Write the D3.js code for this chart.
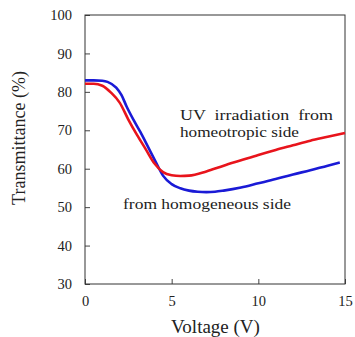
<!DOCTYPE html>
<html>
<head>
<meta charset="utf-8">
<script src="https://cdn.jsdelivr.net/npm/d3@7"></script>
<style>
  body { margin: 0; background: #fff; }
</style>
</head>
<body>
<svg id="chart" width="355" height="337"></svg>
<script>
// data
var redVoltage = [0, 0.5, 1, 1.5, 2, 2.5, 3, 3.5, 4, 4.5, 5, 5.5, 6, 7, 8, 9, 10, 11, 12, 13, 14, 15];
var redTrans = [82.1, 82.1, 81.6, 79.8, 77.2, 72.8, 68.8, 65.1, 61.4, 59.1, 58.3, 58.1, 58.2, 59.3, 60.8, 62.2, 63.6, 64.9, 66.1, 67.3, 68.3, 69.3];

var blueVoltage = [0, 0.5, 1, 1.3, 1.8, 2.1, 2.4, 2.8, 3.2, 3.6, 4.1, 4.5, 5, 5.5, 6, 6.5, 7, 7.5, 8, 9, 10, 11, 12, 13, 14, 14.7];
var blueTrans = [83, 83, 82.9, 82.6, 81.1, 79.2, 76.2, 72.7, 69.5, 66, 61.6, 58.2, 56.0, 54.9, 54.3, 54, 53.9, 54, 54.3, 55.1, 56.2, 57.3, 58.5, 59.6, 60.8, 61.6];

var xTicks = [0, 5, 10, 15];
var yTicks = [30, 40, 50, 60, 70, 80, 90, 100];

var serif = "'Liberation Serif', 'Times New Roman', 'DejaVu Serif', serif";

var svg = d3.select("#chart");
var plotLeft = 85, plotRight = 345, plotTop = 15, plotBottom = 284;

var x = d3.scaleLinear().domain([0, 15]).range([plotLeft, plotRight]);
var y = d3.scaleLinear().domain([30, 100]).range([plotBottom, plotTop]);

// axes, ticks point inward
var xAxis = svg.append("g")
    .attr("transform", "translate(0," + plotBottom + ")")
    .call(d3.axisBottom(x).tickValues(xTicks).tickSizeInner(-5).tickSizeOuter(0).tickPadding(12));
var yAxis = svg.append("g")
    .attr("transform", "translate(" + plotLeft + ",0)")
    .call(d3.axisLeft(y).tickValues(yTicks).tickSizeInner(-5).tickSizeOuter(0).tickPadding(13));

[xAxis, yAxis].forEach(function(a) {
    a.attr("font-family", serif).attr("font-size", 14.5);
    a.select(".domain").remove();
    a.selectAll("line").attr("stroke", "#444");
    a.selectAll("text").attr("fill", "#222");
});

// frame
svg.append("rect")
    .attr("x", plotLeft).attr("y", plotTop)
    .attr("width", plotRight - plotLeft).attr("height", plotBottom - plotTop)
    .attr("fill", "none").attr("stroke", "#333").attr("stroke-width", 1);

var line = d3.line()
    .x(function(d) { return x(d[0]); })
    .y(function(d) { return y(d[1]); })
    .curve(d3.curveMonotoneX);

svg.append("path")
    .datum(blueVoltage.map(function(v, i) { return [v, blueTrans[i]]; }))
    .attr("d", line)
    .attr("fill", "none").attr("stroke", "#1a1ad6").attr("stroke-width", 2.6);

svg.append("path")
    .datum(redVoltage.map(function(v, i) { return [v, redTrans[i]]; }))
    .attr("d", line)
    .attr("fill", "none").attr("stroke", "#e8141c").attr("stroke-width", 2.6);

function label(xp, yp, size, len, str) {
    var t = svg.append("text").attr("x", xp).attr("y", yp)
        .attr("font-family", serif).attr("font-size", size).attr("fill", "#222")
        .style("white-space", "pre")
        .text(str);
    if (len) t.attr("textLength", len).attr("lengthAdjust", "spacingAndGlyphs");
    return t;
}

// annotations
label(180, 120, 15, 153, "UV  irradiation  from");
label(180, 136.5, 15, 119, "homeotropic side");
label(123, 208.5, 15, 168, "from homogeneous side");

// axis titles
label((plotLeft + plotRight) / 2 + 0.5, 333, 19, null, "Voltage (V)")
    .attr("text-anchor", "middle");
label(0, 0, 18, null, "Transmittance (%)")
    .attr("text-anchor", "middle")
    .attr("transform", "translate(25,138) rotate(-90)");
</script>
</body>
</html>
